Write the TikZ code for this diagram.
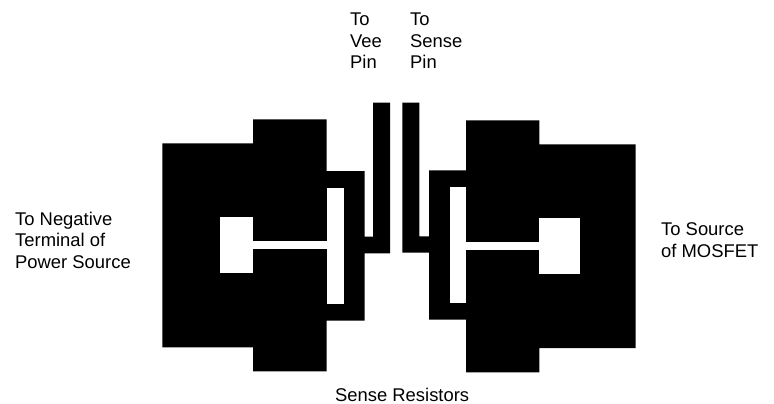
\documentclass[tikz,border=0pt]{standalone}
\usepackage{fontspec}
\setmainfont{Liberation Sans}
\tikzset{
  metal/.style={fill=black,draw=none},
  hole/.style={fill=white,draw=none},
  lab/.style={inner sep=0pt,font=\fontsize{18.4}{21.6}\selectfont,align=left}
}
\begin{document}
\begin{tikzpicture}[x=1pt,y=-1pt]
\useasboundingbox[fill=white] (0,0) rectangle (774,404);
% left assembly
\fill[metal] (162.3,143.3) -- (253,143.3) -- (253,119.3) -- (326.7,119.3) -- (326.7,171) -- (364.7,171) -- (364.7,236.7) -- (373,236.7) -- (373,102.7) -- (390,102.7) -- (390,253.3) -- (364.7,253.3) -- (364.7,320.7) -- (326.7,320.7) -- (326.7,371.3) -- (253,371.3) -- (253,347.3) -- (162.3,347.3) -- cycle;
\fill[hole] (220.3,217.3) rectangle (253,273.3);
\fill[hole] (253,241.3) rectangle (326.7,249.3);
\fill[hole] (326.7,188.3) rectangle (343.7,304.3);
% right assembly
\fill[metal] (635.7,144.3) -- (539.3,144.3) -- (539.3,120.3) -- (466,120.3) -- (466,170.3) -- (429,170.3) -- (429,236.3) -- (419.3,236.3) -- (419.3,102.7) -- (402.3,102.7) -- (402.3,252.7) -- (429,252.7) -- (429,319.7) -- (466,319.7) -- (466,372.3) -- (539.3,372.3) -- (539.3,348) -- (635.7,348) -- cycle;
\fill[hole] (539.3,218.3) rectangle (579.7,274.3);
\fill[hole] (466,242.3) rectangle (539.3,250.3);
\fill[hole] (450,187) rectangle (466,303.3);
% labels
\node[lab,anchor=north west] (vee) at (350,12.8) {To\\Vee\\Pin};
\node[lab,anchor=north west] (sense) at (410,12.8) {To\\Sense\\Pin};
\node[lab,anchor=north west] (neg) at (15,211.8) {To Negative\\Terminal of\\Power Source};
\node[lab,anchor=north west] (src) at (661,222.8) {To Source\\of MOSFET};
\node[lab,anchor=north west] (res) at (335,387.5) {Sense Resistors};
\end{tikzpicture}
\end{document}
